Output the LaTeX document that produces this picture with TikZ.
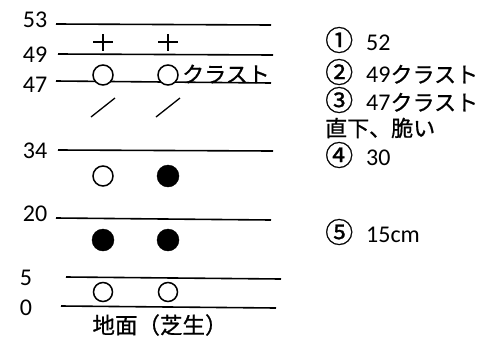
\documentclass[tikz,border=0pt]{standalone}
\usepackage{fontspec}
\setmainfont{Carlito}
\newfontfamily\jp[FakeBold=0.8]{Noto Sans CJK JP}
\newcommand\circnum[1]{{\jp\fontsize{28}{27.5}\selectfont #1}\hspace{13pt}}
\usetikzlibrary{positioning}

\begin{document}
\begin{tikzpicture}[x=1pt,y=-1pt,font=\fontsize{24}{27.5}\selectfont,
lay/.style={line width=1.6pt,color=black},
txt/.style={inner sep=0pt,anchor=center},
note/.style={inner sep=0pt,anchor=west},
opn/.style={draw,line width=1.5pt,fill=white},
sld/.style={fill=black},
mk/.style={line width=1.3pt}]
\useasboundingbox (0,0) rectangle (482,338);
% depth lines
\draw[lay] (56,24)--(271,25);
\draw[lay] (58,54)--(273,55);
\draw[lay] (56,81)--(271,83);
\draw[lay] (58,150)--(273,151);
\draw[lay] (56,218)--(271,220);
\draw[lay] (66,277)--(281,279);
\draw[lay] (61,306)--(276,308);
% depth labels
\node[txt] (d53) at (35,20) {53};
\node[txt] (d49) at (35,55) {49};
\node[txt] (d47) at (35,85) {47};
\node[txt] (d34) at (35,151) {34};
\node[txt] (d20) at (35,214) {20};
\node[txt] (d5) at (26,278) {5};
\node[txt] (d0) at (26,308) {0};
% marks
\foreach \x in {103,168}{
  \draw[mk] (\x-10,42)--(\x+10,42);
  \draw[mk] (\x,34)--(\x,51);
  \draw[mk] (\x-12,117)--(\x+12,98);
}
\draw[opn] (103,75) circle (10);
\draw[opn] (168,75) circle (10);
\draw[opn] (103,176) circle (10);
\draw[sld] (168,176) circle (11);
\draw[sld] (103,240) circle (11);
\draw[sld] (168,240) circle (11);
\draw[opn] (103,292) circle (9.5);
\draw[opn] (168,292) circle (9.5);
\node[note,font=\jp\fontsize{22}{27.5}\selectfont] (crust) at (182,74) {クラスト};
\node[txt,font=\jp\fontsize{22.5}{27.5}\selectfont] (ground) at (160,325) {地面（芝生）};
% notes
\node[note] (n1) at (325,40) {\circnum{①}52};
\node[note] (n2) at (325,72) {\circnum{②}49{\jp\fontsize{22}{27.5}\selectfont クラスト}};
\node[note] (n3) at (325,100) {\circnum{③}47{\jp\fontsize{22}{27.5}\selectfont クラスト}};
\node[note,font=\jp\fontsize{22}{27.5}\selectfont] (n3b) at (325,128) {直下、脆い};
\node[note] (n4) at (325,155) {\circnum{④}30};
\node[note] (n5) at (325,232) {\circnum{⑤}15cm};
\end{tikzpicture}
\end{document}
